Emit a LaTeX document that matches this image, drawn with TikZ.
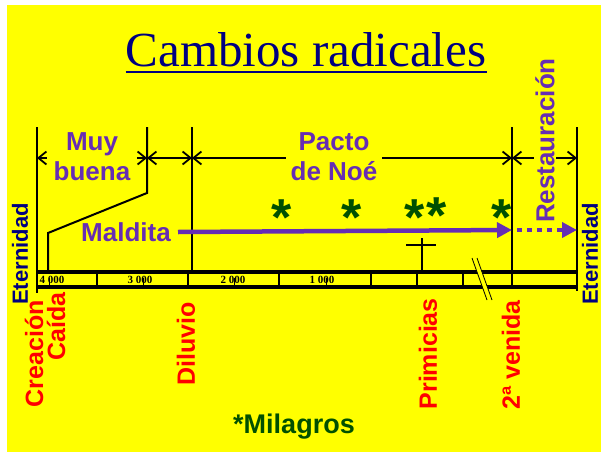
\documentclass[tikz,border=0pt]{standalone}
\usepackage{fontspec}
\setmainfont{Liberation Serif}
\newfontfamily\arial{Liberation Sans}
\usetikzlibrary{arrows.meta}
\definecolor{purp}{RGB}{102,45,180}
\definecolor{navyc}{RGB}{0,0,128}
\definecolor{dgreen}{RGB}{0,80,0}
\definecolor{bgyellow}{RGB}{255,255,0}
\tikzset{
  vline/.style={line width=2pt, line cap=rect},
  barline/.style={line width=4pt},
  tickline/.style={line width=2pt},
  dimline/.style={line width=1.8pt, {Straight Barb[length=8pt,width=13pt]}-{Straight Barb[length=8pt,width=13pt]}},
  plabel/.style={font=\arial\bfseries\fontsize{26}{30}\selectfont, text=purp, inner sep=0pt},
  rlabel/.style={font=\arial\bfseries\fontsize{25}{28}\selectfont, text=red, rotate=90, anchor=east, inner sep=0pt},
  eter/.style={font=\arial\bfseries\fontsize{22}{24}\selectfont, text=navyc, rotate=90, inner sep=0pt},
  milagro/.style={font=\arial\bfseries\fontsize{52}{52}\selectfont, text=dgreen, anchor=base, inner sep=0pt},
  numlbl/.style={font=\bfseries\fontsize{11}{11}\selectfont, inner sep=0pt},
  bigarrow/.style={line width=4.5pt, draw=purp, -{Triangle[length=15pt,width=15pt]}},
}
\begin{document}
\begin{tikzpicture}[x=1pt,y=-1pt]
\useasboundingbox (0,0) rectangle (601,452);
\fill[white] (0,0) rectangle (601,452);
\fill[bgyellow] (7,5) rectangle (601,452);

% title
\node[font=\fontsize{49}{51}\selectfont, text=navyc, anchor=base, inner sep=0pt] (title) at (306,66) {Cambios radicales};
\draw[navyc, line width=2pt] ([yshift=-6pt]title.base west) -- ([yshift=-6pt]title.base east);

% coordinates
\coordinate (L0) at (37,128);  \coordinate (L1) at (37,292);
\coordinate (B0) at (147,128); \coordinate (B1) at (147,193);
\coordinate (B2) at (48,233);  \coordinate (B3) at (48,272);
\coordinate (D0) at (192,128); \coordinate (D1) at (192,272);
\coordinate (V0) at (512,128); \coordinate (V1) at (512,272);
\coordinate (R0) at (577,128); \coordinate (R1) at (577,290);

% vertical lines
\draw[vline] (L0) -- (L1);
\draw[vline] (B0) -- (B1) -- (B2) -- (B3);
\draw[vline] (D0) -- (D1);
\draw[vline] (V0) -- (V1);
\draw[vline] (R0) -- (R1);

% timeline bars
\coordinate (T0) at (37,272);  \coordinate (T1) at (577,272);
\coordinate (U0) at (37,287);  \coordinate (U1) at (577,287);
\draw[barline] (T0) -- (T1);
\draw[barline] (U0) -- (U1);
\foreach \x in {97,188,279,371,417,463,512}{
  \draw[tickline] (\x,272) -- (\x,287);
}
\foreach \x in {49,143,234,326}{
  \draw[line width=1pt] (\x,278) -- (\x,287);
}
\node[numlbl] (n4) at (52,279.5) {4 000};
\node[numlbl] (n3) at (140,279.5) {3 000};
\node[numlbl] (n2) at (233,279.5) {2 000};
\node[numlbl] (n1) at (322,279.5) {1 000};

% break mark
\coordinate (S0) at (472,258); \coordinate (S1) at (477,258);
\coordinate (S2) at (492,300); \coordinate (S3) at (487,300);
\fill[bgyellow] (S0) -- (S1) -- (S2) -- (S3) -- cycle;
\draw[line width=0.8pt] (S0) -- (S3);
\draw[line width=0.8pt] (S1) -- (S2);

% dimension arrows
\coordinate (A0) at (37,158); \coordinate (A1) at (147,158);
\coordinate (A2) at (192,158); \coordinate (A3) at (512,158);
\coordinate (A4) at (577,158);
\draw[dimline] (A0) -- (A1);
\draw[dimline] (A1) -- (A2);
\draw[dimline] (A2) -- (A3);
\draw[dimline] (A3) -- (A4);

\node[plabel, fill=bgyellow, align=center, inner xsep=7pt, inner ysep=0pt] (muy) at (92,157) {Muy\\buena};
\node[plabel, fill=bgyellow, align=center, inner xsep=5pt, inner ysep=0pt] (pacto) at (334,157) {Pacto\\de Noé};
\node[plabel, fill=bgyellow, rotate=90, inner sep=1pt] (rest) at (545,140.5) {Restauración};

% Maldita arrow
\node[plabel, anchor=east] (mald) at (171,232) {Maldita};
\coordinate (M1) at (512,230);
\coordinate (M2) at (517,230); \coordinate (M3) at (577,230);
\draw[bigarrow] (mald.east) ++(7pt,0) coordinate (M0) -- (M1);
\draw[bigarrow, dash pattern=on 5pt off 5pt] (M2) -- (M3);

% miracles
\node[milagro] (s1) at (282,235) {*};
\node[milagro] (s2) at (352,235) {*};
\node[milagro] (s3) at (415,235) {*};
\node[milagro] (s4) at (437,233) {*};
\node[milagro] (s5) at (502,235) {*};

% cross
\coordinate (C0) at (422,238); \coordinate (C1) at (422,272);
\coordinate (C2) at (406,245); \coordinate (C3) at (436,245);
\draw[line width=2pt] (C0) -- (C1);
\draw[line width=2pt] (C2) -- (C3);

% eternity
\node[eter] (et1) at (20,254) {Eternidad};
\node[eter] (et2) at (590,254) {Eternidad};

% event labels
\node[rlabel] (crea) at (34,300) {Creación};
\node[rlabel] (caida) at (56,292) {Caída};
\node[rlabel] (dil) at (186,302) {Diluvio};
\node[rlabel] (prim) at (428,298) {Primicias};
\node[rlabel] (ven) at (511,300) {2ª venida};

\node[font=\arial\bfseries\fontsize{27}{30}\selectfont, text=dgreen, anchor=base, inner sep=0pt] (mil) at (294,433) {*Milagros};
\end{tikzpicture}
\end{document}
